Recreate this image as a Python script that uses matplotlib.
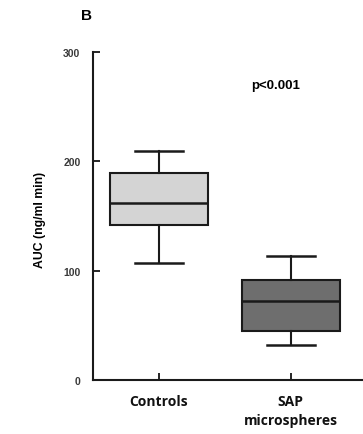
import matplotlib
matplotlib.use("Agg")
import matplotlib.pyplot as plt

categories = ["Controls", "SAP\nmicrospheres"]
whislo = [107, 32]
q1 = [141.5, 45]
med = [161.5, 72]
q3 = [189, 91.5]
whishi = [209, 113]
colors = ["#d4d4d4", "#6e6e6e"]
yticks = [0, 100, 200, 300]

fig = plt.figure(figsize=(3.63, 4.35), dpi=100)
ax = fig.add_axes([93/363, 1-381/435, (362-93)/363, (381-53)/435])

stats = []
for i, c in enumerate(categories):
    stats.append(dict(label=c, whislo=whislo[i], q1=q1[i], med=med[i],
                      q3=q3[i], whishi=whishi[i], fliers=[]))

bp = ax.bxp(stats, positions=[1, 2], widths=0.74, patch_artist=True,
            showfliers=False,
            boxprops=dict(linewidth=1.5, edgecolor="#1a1a1a"),
            medianprops=dict(color="#1a1a1a", linewidth=1.8),
            whiskerprops=dict(color="#1a1a1a", linewidth=1.5),
            capprops=dict(color="#1a1a1a", linewidth=1.8),
            capwidths=0.36)
for patch, col in zip(bp["boxes"], colors):
    patch.set_facecolor(col)

ax.set_xlim(0.5, 2.54)
ax.set_ylim(0, 300)
ax.set_yticks(yticks)
ax.set_yticklabels([str(t) for t in yticks], fontsize=7.5, color="#3a3a3a",
                   fontweight="bold", family="Liberation Sans")
ax.set_xticks([1, 2])
ax.set_xticklabels(categories, fontsize=10, fontweight="bold",
                   family="Open Sans", color="#111111", linespacing=1.45)
ax.tick_params(axis="y", direction="in", length=5, width=1.2, pad=9)
ax.tick_params(axis="x", direction="in", length=5, width=1.2, pad=10)
for s in ["top", "right"]:
    ax.spines[s].set_visible(False)
for s in ["left", "bottom"]:
    ax.spines[s].set_linewidth(1.5)
    ax.spines[s].set_color("#1a1a1a")

ax.set_ylabel("AUC (ng/ml min)", fontsize=8.8, fontweight="bold",
              family="Liberation Sans")
ax.yaxis.set_label_coords(-47/269, (381-220)/328)

fig.text(87/363, 1-16/435, "B", fontsize=11, fontweight="bold",
         family="Liberation Sans", ha="center", va="center")
ax.text(1.886, 270, "p<0.001", fontsize=9.5, fontweight="bold",
        family="Liberation Sans", ha="center", va="center")

fig.savefig("out.png", dpi=100)
